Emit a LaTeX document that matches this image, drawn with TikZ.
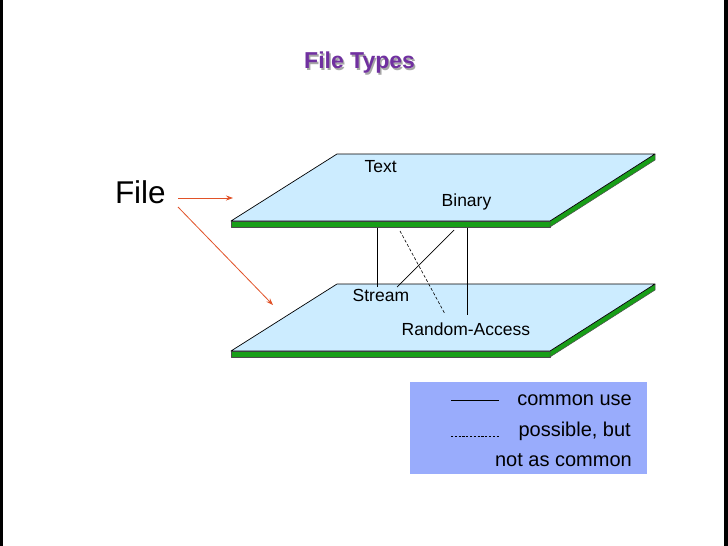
\documentclass[tikz,border=0pt]{standalone}
\usepackage{fontspec}
\setmainfont{Liberation Sans}
\usetikzlibrary{arrows.meta}
\definecolor{planefill}{RGB}{204,236,255}
\definecolor{slabgreen}{RGB}{24,158,24}
\definecolor{arrowred}{RGB}{225,82,40}
\definecolor{legendfill}{RGB}{153,172,252}
\definecolor{titlepurple}{RGB}{112,48,160}
\tikzset{
  slab/.style={fill=slabgreen,draw=black!70,line width=0.5pt,line join=round},
  face/.style={fill=planefill,draw=black,line width=0.7pt,line join=round},
  lbl/.style={inner sep=0pt,anchor=base west,font=\fontsize{17.5}{20}\selectfont},
  lgd/.style={inner sep=0pt,anchor=base east,font=\fontsize{20}{24}\selectfont},
  link/.style={draw=black,line width=0.7pt},
  linkd/.style={draw=black,line width=0.6pt,dash pattern=on 3pt off 2pt},
  redarrow/.style={draw=arrowred,line width=0.8pt,-{Stealth[length=7pt,width=5pt]}},
  titlefont/.style={inner sep=0pt,anchor=base west,font=\fontsize{23}{26}\bfseries\selectfont},
}
\begin{document}
\begin{tikzpicture}[x=1pt,y=-1pt]
\useasboundingbox (0,0) rectangle (728,546);
\fill[white] (0,0) rectangle (728,546);
% side bars
\fill[black] (0,0) rectangle (2.5,546);
\fill[black] (723.5,0) rectangle (728,546);
% title with shadow
\node[titlefont,text=black!35] (titleshadow) at (305.5,70) {File Types};
\node[titlefont,text=titlepurple] (title) at (304,68.5) {File Types};
% top plane
\path[slab] (231,221) -- (550,221) -- (550,227) -- (231,227) -- cycle;
\path[slab] (550,221) -- (655,154) -- (655,160) -- (550,227) -- cycle;
\path[face] (231,221) -- (550,221) -- (655,154) -- (337,154) -- cycle;
% bottom plane
\path[slab] (231,351) -- (550,351) -- (550,357) -- (231,357) -- cycle;
\path[slab] (550,351) -- (655,284) -- (655,290) -- (550,357) -- cycle;
\path[face] (231,351) -- (550,351) -- (655,284) -- (337,284) -- cycle;
% labels
\node[lbl] (text) at (364.5,172.3) {Text};
\node[lbl] (binary) at (441.5,206) {Binary};
\node[lbl] (stream) at (352.5,301.7) {Stream};
\node[lbl] (random) at (401.5,335) {Random-Access};
% connector end points
\coordinate (textbot) at (377,228);
\coordinate (streamtop) at (377,287);
\coordinate (binbot) at (467,228);
\coordinate (randtop) at (467,315);
\coordinate (bindiag) at (454,230);
\coordinate (streamdiag) at (397,287);
\coordinate (textdash) at (400,231);
\coordinate (randdash) at (445,314);
\draw[link] (textbot) -- (streamtop);
\draw[link] (binbot) -- (randtop);
\draw[link] (bindiag) -- (streamdiag);
\draw[linkd] (textdash) -- (randdash);
% File and arrows
\node[inner sep=0pt,anchor=base west,font=\fontsize{31.5}{34}\selectfont] (file) at (114.8,203.5) {File};
\coordinate (fa1) at (178,198);
\coordinate (topplane) at (233,198);
\coordinate (fa2) at (178,207);
\coordinate (botplane) at (273,305);
\draw[redarrow] (fa1) -- (topplane);
\draw[redarrow] (fa2) -- (botplane);
% legend
\fill[legendfill] (410,382) rectangle (647,474);
\coordinate (ls1) at (451,400);
\coordinate (ls2) at (499,400);
\coordinate (ld1) at (451,436);
\coordinate (ld2) at (499,436);
\draw[black,line width=0.7pt] (ls1) -- (ls2);
\draw[black,line width=0.5pt,dash pattern=on 2.2pt off 1.6pt] (ld1) -- (ld2);
\node[lgd] (common) at (632,405) {common use};
\node[lgd] (possible) at (631,436) {possible, but};
\node[lgd] (notas) at (632,466) {not as common};
\end{tikzpicture}
\end{document}
